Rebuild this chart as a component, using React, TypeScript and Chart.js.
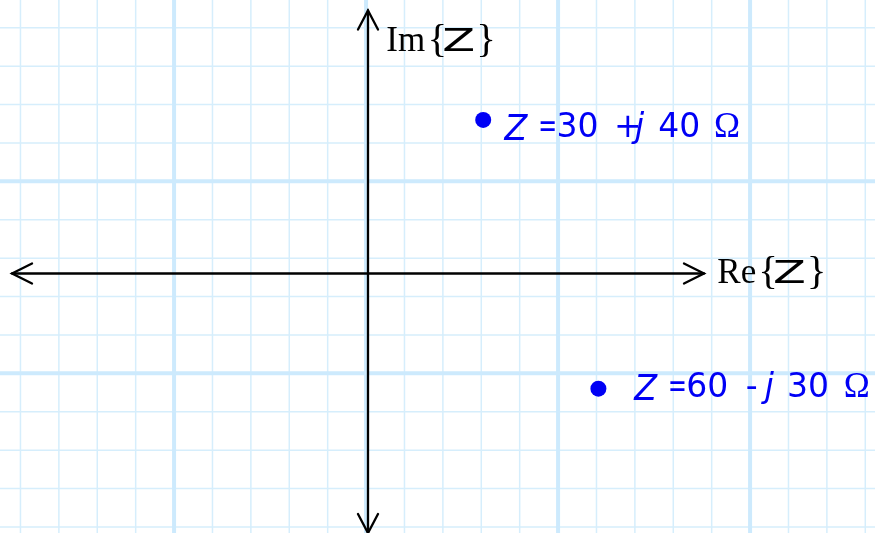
import React, { useEffect, useRef } from 'react';
import { Chart, registerables } from 'chart.js';

Chart.register(...registerables);

// ---- data ----
const reValues = [30, 60];
const imValues = [40, -30];
const xAxisLabel = ['Re', 'Z'];
const yAxisLabel = ['Im', 'Z'];

// ---- view / grid (data units) ----
const X_MIN = -95.83;
const X_MAX = 132.03;
const Y_MIN = -67.58;
const Y_MAX = 71.22;
const GRID_STEP = 10;
const X_GRID_ORIGIN = -0.5; // a major vertical grid line
const Y_GRID_ORIGIN = 24; // a major horizontal grid line
const MAJOR_EVERY = 50;
const X_AXIS_EXTENT = [-92.7, 87.5];
const Y_AXIS_EXTENT = [-67.6, 68.5];

const BLUE = '#0000f5';
const DSANS = '"DejaVu Sans", sans-serif';
const SERIF = '"Liberation Serif", "DejaVu Serif", serif';
const MINOR_COLOR = '#d6eefc';
const MAJOR_COLOR = '#cdeafd';

const LABEL_OFFSETS = [
  [20.3, 16.8],
  [34.9, 8],
];

function gridValues(min: number, max: number, origin: number) {
  const vals: number[] = [];
  let v = origin - Math.ceil((origin - min) / GRID_STEP) * GRID_STEP;
  for (; v <= max; v += GRID_STEP) {
    if (v >= min) vals.push(Math.round(v * 100) / 100);
  }
  return vals;
}

function isMajor(value: number, origin: number) {
  const d = Math.round(value - origin);
  return ((d % MAJOR_EVERY) + MAJOR_EVERY) % MAJOR_EVERY === 0;
}

// x = where the ink of the run starts (relative to label start); w = optional ink width
type Run = { t: string; font: string; x: number; dy?: number; w?: number };

function drawRuns(ctx: CanvasRenderingContext2D, x: number, y: number, runs: Run[]) {
  for (const r of runs) {
    ctx.save();
    ctx.font = r.font;
    const m = ctx.measureText(r.t);
    const inkL = m.actualBoundingBoxLeft;
    const inkW = m.actualBoundingBoxLeft + m.actualBoundingBoxRight;
    const sx = r.w ? r.w / inkW : 1;
    ctx.translate(x + r.x + inkL * sx, y + (r.dy || 0));
    ctx.scale(sx, 1);
    ctx.fillText(r.t, 0, 0);
    ctx.restore();
  }
}

function inkRight(ctx: CanvasRenderingContext2D, t: string, font: string) {
  ctx.font = font;
  const m = ctx.measureText(t);
  return m.actualBoundingBoxLeft + m.actualBoundingBoxRight;
}

function arrowHead(
  ctx: CanvasRenderingContext2D,
  tx: number,
  ty: number,
  dx: number,
  dy: number,
  len: number,
  half: number
) {
  const bx = tx - dx * len;
  const by = ty - dy * len;
  const px = -dy;
  const py = dx;
  ctx.beginPath();
  ctx.moveTo(bx + px * half, by + py * half);
  ctx.lineTo(tx, ty);
  ctx.lineTo(bx - px * half, by - py * half);
  ctx.stroke();
}

function axisRuns(ctx: CanvasRenderingContext2D, lab: string[]): Run[] {
  const wordFont = `35px ${SERIF}`;
  const b = inkRight(ctx, lab[0], wordFont) + 5.5;
  return [
    { t: lab[0], font: wordFont, x: 0 },
    { t: '{', font: `41px ${SERIF}`, x: b, dy: 1 },
    { t: lab[1], font: `32px ${DSANS}`, x: b + 13.4, w: 30 },
    { t: '}', font: `41px ${SERIF}`, x: b + 48.7, dy: 1 },
  ];
}

const overlayPlugin = {
  id: 'complexOverlay',
  beforeDatasetsDraw(chart: any) {
    const ctx: CanvasRenderingContext2D = chart.ctx;
    const xs = chart.scales.x;
    const ys = chart.scales.y;
    const { left, right, top, bottom } = chart.chartArea;
    ctx.save();

    // graph-paper grid from the scales
    const xv = gridValues(X_MIN, X_MAX, X_GRID_ORIGIN);
    const yv = gridValues(Y_MIN, Y_MAX, Y_GRID_ORIGIN);
    const drawGrid = (major: boolean) => {
      ctx.strokeStyle = major ? MAJOR_COLOR : MINOR_COLOR;
      ctx.lineWidth = major ? 4 : 1.5;
      ctx.beginPath();
      xv.forEach((v) => {
        if (isMajor(v, X_GRID_ORIGIN) !== major) return;
        const p = xs.getPixelForValue(v);
        ctx.moveTo(p, top);
        ctx.lineTo(p, bottom);
      });
      yv.forEach((v) => {
        if (isMajor(v, Y_GRID_ORIGIN) !== major) return;
        const p = ys.getPixelForValue(v);
        ctx.moveTo(left, p);
        ctx.lineTo(right, p);
      });
      ctx.stroke();
    };
    drawGrid(false);
    drawGrid(true);

    // axes with arrows
    const ox = xs.getPixelForValue(0);
    const oy = ys.getPixelForValue(0);
    const xl = xs.getPixelForValue(X_AXIS_EXTENT[0]);
    const xr = xs.getPixelForValue(X_AXIS_EXTENT[1]);
    const yt = ys.getPixelForValue(Y_AXIS_EXTENT[1]);
    const yb = ys.getPixelForValue(Y_AXIS_EXTENT[0]);
    ctx.strokeStyle = '#000';
    ctx.lineWidth = 2.3;
    ctx.lineCap = 'round';
    ctx.lineJoin = 'miter';
    ctx.beginPath();
    ctx.moveTo(xl, oy);
    ctx.lineTo(xr, oy);
    ctx.moveTo(ox, yt);
    ctx.lineTo(ox, yb);
    ctx.stroke();
    arrowHead(ctx, xl, oy, -1, 0, 20, 10);
    arrowHead(ctx, xr, oy, 1, 0, 20, 10);
    arrowHead(ctx, ox, yt, 0, -1, 19, 10);
    arrowHead(ctx, ox, yb, 0, 1, 19, 10);

    // axis labels
    ctx.fillStyle = '#000';
    ctx.textBaseline = 'alphabetic';
    ctx.textAlign = 'left';
    drawRuns(ctx, xr + 14.3, oy + 9.5, axisRuns(ctx, xAxisLabel));
    drawRuns(ctx, ox + 19.3, yt + 41, axisRuns(ctx, yAxisLabel));
    ctx.restore();
  },
  afterDatasetsDraw(chart: any) {
    const ctx: CanvasRenderingContext2D = chart.ctx;
    const meta = chart.getDatasetMeta(0);
    ctx.save();
    ctx.fillStyle = BLUE;
    ctx.textBaseline = 'alphabetic';
    ctx.textAlign = 'left';
    meta.data.forEach((el: any, i: number) => {
      const re = reValues[i];
      const im = imValues[i];
      const sign = im >= 0 ? '+' : '-';
      const [dx, dy] = LABEL_OFFSETS[i] || [20, 20];
      drawRuns(ctx, el.x + dx, el.y + dy, [
        { t: 'Z', font: `italic 36px ${DSANS}`, x: 0, dy: 3.5, w: 25 },
        { t: '=', font: `33px ${DSANS}`, x: 36.7, w: 15 },
        { t: String(re), font: `33px ${DSANS}`, x: 55 },
        { t: sign, font: `33px ${DSANS}`, x: 113.4 },
        { t: 'j', font: `italic 33px ${DSANS}`, x: 127.5 },
        { t: String(Math.abs(im)), font: `33px ${DSANS}`, x: 155.7 },
        { t: 'Ω', font: `35px ${SERIF}`, x: 211.5 },
      ]);
    });
    ctx.restore();
  },
};

export default function App() {
  const canvasRef = useRef<HTMLCanvasElement | null>(null);

  useEffect(() => {
    const canvas = canvasRef.current;
    if (!canvas) return;
    const chart = new Chart(canvas, {
      type: 'scatter',
      data: {
        datasets: [
          {
            data: reValues.map((r, i) => ({ x: r, y: imValues[i] })),
            backgroundColor: BLUE,
            borderColor: BLUE,
            pointRadius: 8,
            pointHoverRadius: 8,
            borderWidth: 0,
            clip: false as any,
          },
        ],
      },
      options: {
        animation: false,
        responsive: false,
        maintainAspectRatio: false,
        layout: { padding: 0, autoPadding: false },
        plugins: {
          legend: { display: false },
          tooltip: { enabled: false },
          title: { display: false },
        },
        events: [],
        scales: {
          x: { type: 'linear', min: X_MIN, max: X_MAX, display: false },
          y: { type: 'linear', min: Y_MIN, max: Y_MAX, display: false },
        },
      } as any,
      plugins: [overlayPlugin],
    });
    return () => chart.destroy();
  }, []);

  return (
    <div
      style={{
        position: 'absolute',
        left: 0,
        top: 0,
        width: 875,
        height: 533,
        background: '#ffffff',
      }}
    >
      <canvas ref={canvasRef} width={875} height={533} style={{ display: 'block' }} />
    </div>
  );
}
